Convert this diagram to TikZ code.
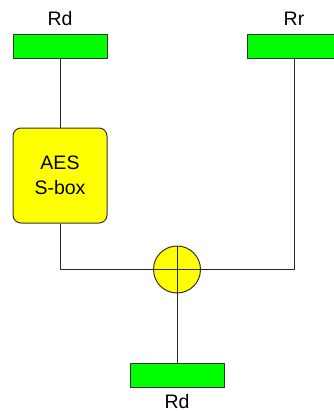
\documentclass[tikz,border=0pt]{standalone}
\usepackage{fontspec}
\setmainfont{Liberation Sans}
\definecolor{regGreen}{HTML}{00FF00}
\definecolor{boxYellow}{HTML}{FFFF00}
\tikzset{
  reg/.style={draw=black!80, fill=regGreen, line width=1pt, minimum width=94pt, minimum height=24pt, inner sep=0pt},
  sbox/.style={draw=black!80, fill=boxYellow, line width=1pt, rounded corners=8pt, minimum width=94pt, minimum height=95pt, align=center, inner sep=0pt},
  xorgate/.style={draw=black!80, fill=boxYellow, line width=1pt, circle, minimum size=47pt, inner sep=0pt},
  wire/.style={black!85, line width=1pt},
  reglabel/.style={inner sep=0pt, label distance=9pt}
}
\begin{document}
\begin{tikzpicture}[x=1pt, y=-1pt, font=\fontsize{19.5}{25}\selectfont]
    \useasboundingbox (0,0) rectangle (334,412);

    % Registers and S-box
    \node[reg, label={[reglabel]above:Rd}] (rdin)  at (60,47)  {};
    \node[reg, label={[reglabel]above:Rr}] (rr)    at (294,47) {};
    \node[sbox] (aes) at (60,175.5) {AES\\S-box};

    % XOR and result
    \node[xorgate] (xor) at (177,269.5) {};
    \draw[wire] (xor.north) -- (xor.south);
    \draw[wire] (xor.west) -- (xor.east);
    \node[reg, label={[reglabel, label distance=7pt]below:Rd}] (rdout) at (177,375) {};

    % Wires
    \draw[wire] (rdin) -- (aes);
    \draw[wire] (aes.south) |- (xor.west);
    \draw[wire] (rr.south) |- (xor.east);
    \draw[wire] (xor) -- (rdout);
\end{tikzpicture}
\end{document}
